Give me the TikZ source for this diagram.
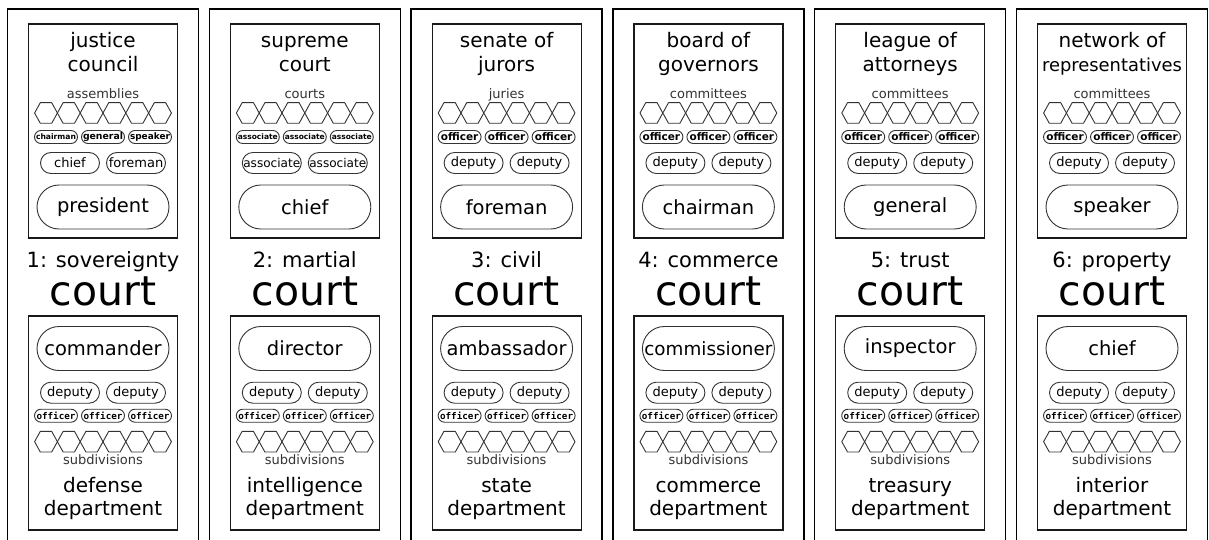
\documentclass[tikz,border=0pt]{standalone}
\usepackage{fontspec}
\setmainfont{DejaVu Sans}
\newfontfamily\codefont{DejaVu Sans Mono}
\usepackage{graphicx}
\usepackage{tikz}
\definecolor{inkgray}{HTML}{333333}

% shrink a label to a width, never stretch it
\newsavebox\fitbox
\newcommand\fitw[2]{\sbox\fitbox{#2}\ifdim\wd\fitbox>#1\relax\resizebox{#1}{!}{\usebox\fitbox}\else\usebox\fitbox\fi}

\tikzset{
  frame/.style={line width=1.4pt,black},
  panel/.style={draw=black!90,line width=1.2pt,minimum width=149pt,minimum height=214pt,inner sep=0pt},
  hexcell/.style={draw=inkgray,line width=0.9pt,line join=round},
  oval/.style={draw=inkgray,line width=0.9pt,rectangle,inner sep=0pt},
  bigoval/.style={oval,rounded corners=22pt,minimum width=132pt,minimum height=44pt,font=\fontsize{19.5}{20}\selectfont},
  midoval/.style={oval,rounded corners=10.5pt,minimum width=59pt,minimum height=21pt,font=\fontsize{13}{14}\selectfont},
  smalloval/.style={oval,rounded corners=6.5pt,minimum width=43pt,minimum height=13pt,font=\bfseries\fontsize{10.5}{11}\selectfont},
  codeoval/.style={smalloval,font=\codefont\bfseries\fontsize{9.5}{10}\selectfont},
  heading/.style={anchor=base,inner sep=0pt,font=\fontsize{20}{24}\selectfont},
  unitlabel/.style={anchor=base,inner sep=0pt,text=inkgray,font=\fontsize{13}{14}\selectfont},
  courtname/.style={anchor=base,inner sep=0pt,font=\fontsize{21}{24}\selectfont},
  courtword/.style={anchor=base,inner sep=0pt,font=\fontsize{41}{44}\selectfont},
}

\begin{document}
\begin{tikzpicture}[x=1pt,y=-1pt]
  \useasboundingbox (0,0) rectangle (1209,540);
  \fill[white] (0,0) rectangle (1209,540);
  \foreach \i/\kind/\tla/\tlb/\unit/\sma/\smb/\smc/\mda/\mdb/\topboss/\lowboss/\dept in {
      1/sovereignty/justice/council/assemblies/chairman/general/speaker/chief/foreman/president/commander/defense,
      2/martial/supreme/court/courts/associate/associate/associate/associate/associate/chief/director/intelligence,
      3/civil/senate of/jurors/juries/officer/officer/officer/deputy/deputy/foreman/ambassador/state,
      4/commerce/board of/governors/committees/officer/officer/officer/deputy/deputy/chairman/commissioner/commerce,
      5/trust/league of/attorneys/committees/officer/officer/officer/deputy/deputy/general/inspector/treasury,
      6/property/network of/representatives/committees/officer/officer/officer/deputy/deputy/speaker/chief/interior}{
    \pgfmathsetmacro\cx{103+201.8*(\i-1)}
    % outer frame, cut off by the lower edge
    \draw[frame] (\cx-95.5,540) -- (\cx-95.5,9) -- (\cx+95.5,9) -- (\cx+95.5,540);
    % council panel
    \node[panel] (council\i) at (\cx,131) {};
    \node[heading] (titlea\i) at (\cx,48) {\fitw{140pt}{\tla}};
    \node[heading] (titleb\i) at (\cx,71.5) {\fitw{140pt}{\tlb}};
    \node[unitlabel] (unit\i) at (\cx,98.3) {\unit};
    \foreach \k in {0,...,5}
      \draw[hexcell] ({\cx-68.4+22.8*\k},113) -- ++(5.7,-10.3) -- ++(11.4,0) -- ++(5.7,10.3)
        -- ++(-5.7,10.3) -- ++(-11.4,0) -- cycle;
    \node[smalloval] (sma\i) at (\cx-47,137) {\fitw{40pt}{\sma}};
    \node[smalloval] (smb\i) at (\cx,137) {\fitw{40pt}{\smb}};
    \node[smalloval] (smc\i) at (\cx+47,137) {\fitw{40pt}{\smc}};
    \node[midoval] (mda\i) at (\cx-33,163) {\fitw{57pt}{\mda}};
    \node[midoval] (mdb\i) at (\cx+33,163) {\fitw{57pt}{\mdb}};
    \node[bigoval] (topboss\i) at (\cx,207) {\fitw{128pt}{\topboss}};
    % court name
    \node[courtname] (name\i) at (\cx,267.5) {\i: \kind};
    \node[courtword] (court\i) at (\cx,305) {court};
    % department panel
    \node[panel] (dept\i) at (\cx,423) {};
    \node[bigoval] (lowboss\i) at (\cx,348.5) {\fitw{128pt}{\lowboss}};
    \node[midoval] (depa\i) at (\cx-33,392.7) {deputy};
    \node[midoval] (depb\i) at (\cx+33,392.7) {deputy};
    \node[codeoval] (offa\i) at (\cx-47,415.7) {\fitw{39pt}{officer}};
    \node[codeoval] (offb\i) at (\cx,415.7) {\fitw{39pt}{officer}};
    \node[codeoval] (offc\i) at (\cx+47,415.7) {\fitw{39pt}{officer}};
    \foreach \k in {0,...,5}
      \draw[hexcell] ({\cx-68.4+22.8*\k},441.7) -- ++(5.7,-10.3) -- ++(11.4,0) -- ++(5.7,10.3)
        -- ++(-5.7,10.3) -- ++(-11.4,0) -- cycle;
    \node[unitlabel] (subdiv\i) at (\cx,464) {subdivisions};
    \node[heading] (depta\i) at (\cx,492.5) {\dept};
    \node[heading] (deptb\i) at (\cx,515) {department};
  }
\end{tikzpicture}
\end{document}
